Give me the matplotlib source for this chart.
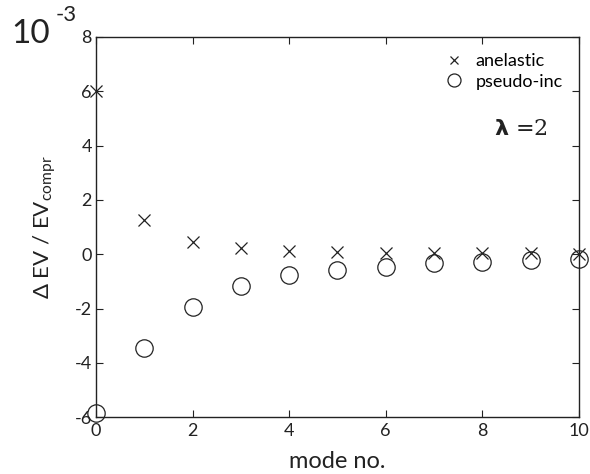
import matplotlib
matplotlib.use("Agg")
import matplotlib.pyplot as plt
import numpy as np

modes = [0, 1, 2, 3, 4, 5, 6, 7, 8, 9, 10]
anelastic = [6.0, 1.25, 0.44, 0.21, 0.12, 0.08, 0.06, 0.05, 0.04, 0.03, 0.02]
pseudo_inc = [-5.85, -3.46, -1.93, -1.18, -0.78, -0.57, -0.46, -0.34, -0.28, -0.23, -0.18]
xticks = [0, 2, 4, 6, 8, 10]
yticks = [-6, -4, -2, 0, 2, 4, 6, 8]

plt.rcParams['font.family'] = ['Lato', 'DejaVu Sans']
plt.rcParams['mathtext.fontset'] = 'custom'
plt.rcParams['mathtext.rm'] = 'Lato'
plt.rcParams['mathtext.it'] = 'Lato:italic'

fig = plt.figure(figsize=(5.9, 4.74), dpi=100)
ax = fig.add_axes([0.1627, 0.120, 0.8183, 0.802])

ax.plot(modes, anelastic, linestyle='none', marker='x', color='#222222',
        markersize=8, markeredgewidth=0.9, label='anelastic', clip_on=False)
ax.plot(modes, pseudo_inc, linestyle='none', marker='o', markerfacecolor='none',
        markeredgecolor='#222222', markersize=12.5, markeredgewidth=0.9,
        label='pseudo-inc', clip_on=False)

ax.set_xlim(0, 10)
ax.set_ylim(-6, 8)
ax.set_xticks(xticks)
ax.set_yticks(yticks)
ax.set_xticklabels([str(t) for t in xticks])
ax.set_yticklabels([str(t) for t in yticks])
ax.tick_params(direction='in', top=True, right=True, length=5, width=0.8,
               labelsize=13, colors='#222222')
ax.tick_params(axis='x', pad=4)
ax.tick_params(axis='y', pad=3)
for s in ax.spines.values():
    s.set_linewidth(1.0)
    s.set_color('#222222')

ax.set_xlabel('mode no.', fontsize=17, labelpad=9, color='#222222')
ax.set_ylabel(r'$\Delta$ EV / EV$_{\mathrm{compr}}$', fontsize=16, labelpad=12,
              color='#222222')

fig.text(0.02, 0.91, '10', fontsize=24, color='#222222')
fig.text(0.094, 0.955, '-3', fontsize=16, color='#222222')

leg = ax.legend(loc='upper right', frameon=False, fontsize=13, handletextpad=0.5,
                borderaxespad=0.5, labelspacing=0.25, handlelength=1.4,
                markerscale=0.75)

ax.text(8.8, 4.6, r'$\mathbf{\lambda}$ =2', fontsize=16, ha='center', va='center',
        color='#222222', family=['DejaVu Serif'])

fig.savefig('out.png', dpi=100)
